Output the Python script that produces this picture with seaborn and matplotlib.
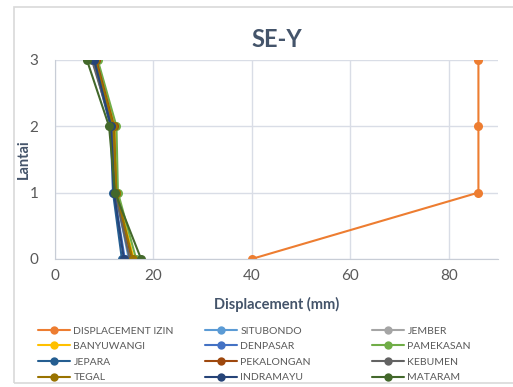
import pandas as pd
import matplotlib.pyplot as plt
import seaborn as sns

floors = [0, 1, 2, 3]
series_names = [
    "DISPLACEMENT IZIN", "SITUBONDO", "JEMBER",
    "BANYUWANGI", "DENPASAR", "PAMEKASAN",
    "JEPARA", "PEKALONGAN", "KEBUMEN",
    "TEGAL", "INDRAMAYU", "MATARAM",
]
displacement_izin = [40.0, 86.0, 86.0, 86.0]
situbondo = [15.0, 12.3, 11.7, 8.0]
jember = [15.5, 12.5, 12.0, 8.3]
banyuwangi = [16.0, 12.6, 12.2, 8.5]
denpasar = [14.2, 12.0, 11.5, 8.0]
pamekasan = [16.5, 12.8, 12.5, 8.7]
jepara = [13.6, 11.8, 11.3, 7.8]
pekalongan = [15.6, 12.4, 12.0, 8.4]
kebumen = [15.2, 12.2, 11.6, 7.5]
tegal = [15.8, 12.5, 11.9, 8.2]
indramayu = [14.0, 12.0, 11.4, 8.0]
mataram = [17.5, 12.2, 11.0, 6.5]

series_values = [
    displacement_izin, situbondo, jember, banyuwangi, denpasar, pamekasan,
    jepara, pekalongan, kebumen, tegal, indramayu, mataram,
]
colors = [
    "#ED7D31", "#5B9BD5", "#A5A5A5", "#FFC000", "#4472C4", "#70AD47",
    "#255E91", "#9E480E", "#636363", "#997300", "#264478", "#43682B",
]

rows = []
for name, vals in zip(series_names, series_values):
    for f, v in zip(floors, vals):
        rows.append({"series": name, "disp": v, "lantai": f})
df = pd.DataFrame(rows)

sns.set_style("white")
plt.rcParams["font.family"] = ["Lato", "DejaVu Sans"]
tick_color = "#595959"
label_color = "#44546A"

fig = plt.figure(figsize=(5.13, 3.87), dpi=100)
ax = fig.add_axes([0.107, 0.331, 0.864, 0.514])

palette = dict(zip(series_names, colors))
sns.lineplot(
    data=df, x="disp", y="lantai", hue="series", hue_order=series_names,
    palette=palette, marker="o", markersize=6.5, markeredgewidth=0,
    linewidth=1.5, sort=False, estimator=None, ax=ax, legend=False,
)

ax.set_xlim(0, 90)
ax.set_ylim(0, 3)
ax.set_xticks([0, 20, 40, 60, 80])
ax.set_yticks([0, 1, 2, 3])
ax.grid(True, color="#D9DDE6", linewidth=1)
ax.set_axisbelow(True)
for s in ["top", "right"]:
    ax.spines[s].set_visible(False)
ax.spines["bottom"].set_color("#C8CDD6")
ax.spines["left"].set_color("#C8CDD6")
ax.tick_params(colors=tick_color, labelsize=11, length=0)
ax.tick_params(axis="y", pad=12)
ax.tick_params(axis="x", pad=7)
ax.set_xlabel("Displacement (mm)", fontsize=10.5, fontweight="bold", color=label_color)
ax.set_ylabel("Lantai", fontsize=10.5, fontweight="bold", color=label_color)
ax.xaxis.set_label_coords(0.5, -0.19)
ax.yaxis.set_label_coords(-0.054, 0.5)
ax.set_title("SE-Y", fontsize=17, fontweight="bold", color=label_color, pad=9)

# legend in Excel row-major order, one legend per column
col_x = [38 / 513, 205 / 513, 372 / 513]
for c in range(3):
    idx = [c, c + 3, c + 6, c + 9]
    handles = [
        plt.Line2D([], [], color=colors[i], marker="o", markersize=6,
                   markeredgewidth=0, linewidth=1.5)
        for i in idx
    ]
    leg = fig.legend(
        handles, [series_names[i] for i in idx],
        loc="upper left", bbox_to_anchor=(col_x[c], 0.157),
        frameon=False, fontsize=7.5, handlelength=3.1, handletextpad=0.3,
        labelspacing=0.6, borderaxespad=0, borderpad=0,
    )
    for t in leg.get_texts():
        t.set_color(tick_color)

border = plt.Rectangle((14 / 513, 4 / 387), 1.2, 376 / 387, transform=fig.transFigure,
                       fill=False, edgecolor="#D9D9D9", linewidth=1.2)
fig.patches.append(border)

fig.savefig("out.png", dpi=100)
